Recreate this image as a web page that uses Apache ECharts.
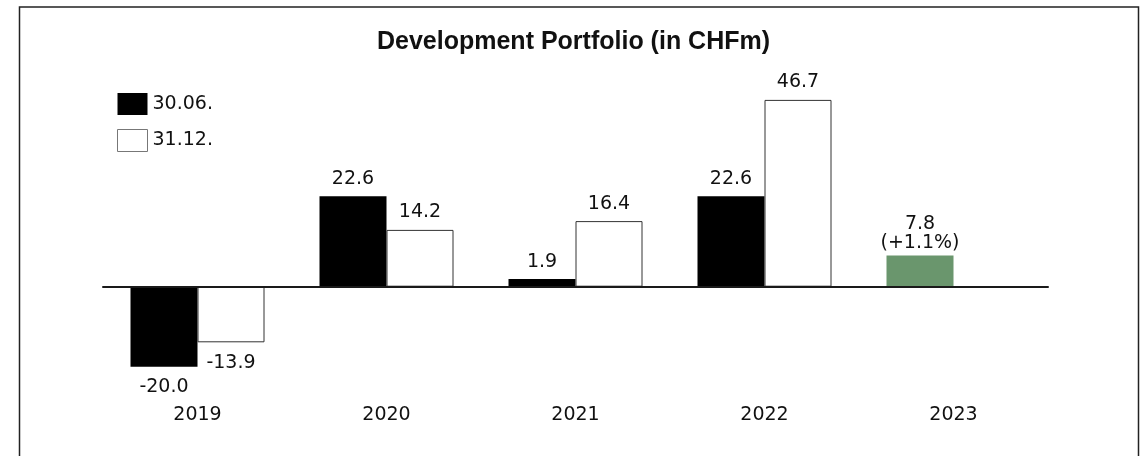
<!DOCTYPE html>
<html>
<head>
<meta charset="utf-8">
<script src="https://cdn.jsdelivr.net/npm/echarts@6/dist/echarts.min.js"></script>
<style>
  html, body { margin: 0; padding: 0; background: #fff; }
  #main { width: 1147px; height: 456px; }
</style>
</head>
<body>
<div id="main"></div>
<script>
// data
const categories = ['2019', '2020', '2021', '2022', '2023']
const june = [-20.0, 22.6, 1.9, 22.6, 7.8]
const december = [-13.9, 14.2, 16.4, 46.7, null]
const note2023 = '(+1.1%)'

const labelFont = 'DejaVu Sans'

// label above positive bars, below negative ones
function barItems (values, extra) {
  return values.map(function (v, i) {
    if (v === null) return null
    let item = {
      value: v,
      label: v < 0 ? { position: 'bottom', distance: 11 } : { position: 'top' }
    }
    if (extra && extra[i]) Object.assign(item, extra[i])
    return item
  })
}

const juneExtra = []
juneExtra[4] = {
  itemStyle: { color: '#6a966d' },
  label: { position: 'top', distance: 3, formatter: '7.8\n' + note2023, lineHeight: 19 }
}

let chart = echarts.init(document.getElementById('main'))
chart.setOption({
  animation: false,
  title: {
    text: 'Development Portfolio (in CHFm)',
    left: 'center',
    top: 25,
    textStyle: {
      fontFamily: 'Liberation Sans',
      fontWeight: 'bold',
      fontSize: 25,
      color: '#111'
    }
  },
  legend: {
    orient: 'vertical',
    left: 112,
    top: 88,
    itemWidth: 30,
    itemHeight: 22,
    itemGap: 14,
    icon: 'rect',
    data: [
      { name: '30.06.' },
      { name: '31.12.', itemStyle: { color: '#fff', borderColor: '#777', borderWidth: 1 } }
    ],
    textStyle: { fontFamily: labelFont, fontSize: 19, color: '#111' }
  },
  graphic: [{
    type: 'rect',
    shape: { x: 19.5, y: 7, width: 1119, height: 520 },
    style: { fill: 'none', stroke: '#222', lineWidth: 1.5 },
    silent: true
  }],
  grid: {
    left: 103,
    right: 99,
    top: 86.7,
    bottom: 69.3,
    outerBoundsMode: 'none'
  },
  xAxis: [
    {
      type: 'category',
      data: categories,
      axisLine: { onZero: true, lineStyle: { color: '#1a1a1a', width: 2 } },
      axisTick: { show: false },
      axisLabel: { show: false },
      splitLine: { show: false },
      z: 10
    },
    {
      type: 'category',
      data: categories,
      position: 'bottom',
      axisLine: { show: false, onZero: false },
      axisTick: { show: false },
      axisLabel: { margin: 19, fontFamily: labelFont, fontSize: 19, color: '#111' },
      splitLine: { show: false }
    }
  ],
  yAxis: {
    type: 'value',
    min: -25,
    max: 50,
    show: false
  },
  series: [
    {
      name: '30.06.',
      type: 'bar',
      xAxisIndex: 0,
      barWidth: 67,
      barGap: '0%',
      itemStyle: { color: '#000' },
      label: {
        show: true,
        distance: 8,
        fontFamily: labelFont,
        fontSize: 19,
        color: '#111',
        formatter: function (p) { return p.value.toFixed(1) }
      },
      data: barItems(june, juneExtra)
    },
    {
      name: '31.12.',
      type: 'bar',
      xAxisIndex: 0,
      barWidth: 67,
      barGap: '0%',
      itemStyle: { color: '#fff', borderColor: '#333', borderWidth: 1 },
      label: {
        show: true,
        distance: 8,
        fontFamily: labelFont,
        fontSize: 19,
        color: '#111',
        formatter: function (p) { return p.value.toFixed(1) }
      },
      data: barItems(december)
    }
  ]
})
</script>
</body>
</html>
